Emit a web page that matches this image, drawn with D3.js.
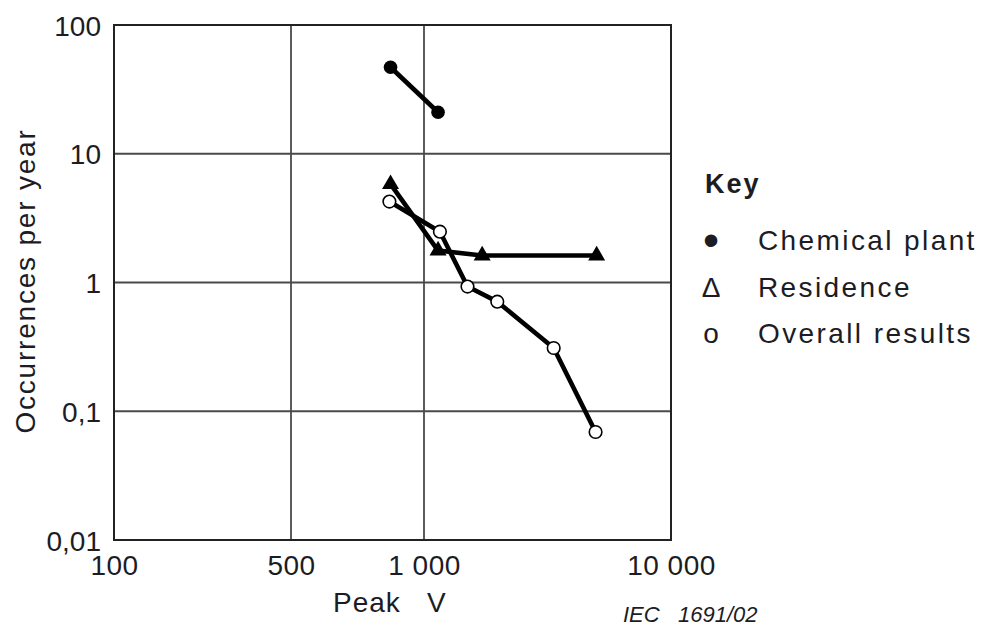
<!DOCTYPE html>
<html>
<head>
<meta charset="utf-8">
<script src="https://cdn.jsdelivr.net/npm/d3@7"></script>
<style>
  html, body { margin: 0; padding: 0; background: #fff; }
  svg { display: block; }
  text { font-family: "Liberation Sans", Arial, sans-serif; fill: #1c1c24; }
</style>
</head>
<body>
<svg id="chart" width="984" height="626"></svg>
<script>
// Axis ticks
const xTickValues = [100, 500, 1000, 10000];
const xTickLabels = ["100", "500", "1 000", "10 000"];
const yTickValues = [100, 10, 1, 0.1, 0.01];
const yTickLabels = ["100", "10", "1", "0,1", "0,01"];

// Series: peak voltage (V) and occurrences per year
const chemicalV = [840, 1140];
const chemicalOcc = [47, 21];
const residenceV = [840, 1140, 1720, 5000];
const residenceOcc = [5.8, 1.77, 1.62, 1.62];
const overallV = [835, 1160, 1500, 1980, 3350, 4950];
const overallOcc = [4.25, 2.48, 0.93, 0.71, 0.31, 0.069];

// Legend entries (glyph + label)
const keyGlyphs = ["•", "Δ", "o"];
const keyLabels = ["Chemical plant", "Residence", "Overall results"];

const svg = d3.select("#chart");
const plotLeft = 114, plotRight = 671, plotTop = 25, plotBottom = 540;

// Piecewise logarithmic voltage axis
const x = d3.scaleLog()
  .domain([100, 500, 1000, 10000])
  .range([plotLeft, 291, 424, plotRight]);
const y = d3.scaleLog()
  .domain([0.01, 100])
  .range([plotBottom, plotTop]);

// Grid lines
const grid = svg.append("g");
grid.selectAll("line.vx")
  .data(xTickValues.slice(1, -1))
  .join("line")
  .attr("x1", d => x(d)).attr("x2", d => x(d))
  .attr("y1", plotTop).attr("y2", plotBottom)
  .attr("stroke", "#4a4a4a").attr("stroke-width", 1.8);
grid.selectAll("line.hy")
  .data(yTickValues.slice(1, -1))
  .join("line")
  .attr("x1", plotLeft).attr("x2", plotRight)
  .attr("y1", d => y(d)).attr("y2", d => y(d))
  .attr("stroke", "#4a4a4a").attr("stroke-width", 1.8);

// Frame
svg.append("rect")
  .attr("x", plotLeft).attr("y", plotTop)
  .attr("width", plotRight - plotLeft).attr("height", plotBottom - plotTop)
  .attr("fill", "none").attr("stroke", "#222").attr("stroke-width", 2);

// Axes (labels only; lines come from the frame and grid)
const xAxis = d3.axisBottom(x)
  .tickValues(xTickValues)
  .tickFormat((d, i) => xTickLabels[i])
  .tickSize(0).tickPadding(0);
const gx = svg.append("g").attr("transform", `translate(0,${plotBottom})`).call(xAxis);
gx.select(".domain").remove();
gx.selectAll("text")
  .attr("y", 35).attr("dy", null)
  .style("font-size", "28px").style("letter-spacing", "0.5px")
  .attr("fill", "#1c1c24");

const yAxis = d3.axisLeft(y)
  .tickValues(yTickValues)
  .tickFormat((d, i) => yTickLabels[i])
  .tickSize(0).tickPadding(0);
const gy = svg.append("g").attr("transform", `translate(${plotLeft - 13},0)`).call(yAxis);
gy.select(".domain").remove();
gy.selectAll("text")
  .attr("x", 0).attr("dy", "0.36em")
  .style("font-size", "28px")
  .attr("fill", "#1c1c24");

// Axis titles
svg.append("text")
  .attr("transform", "translate(35,281) rotate(-90)")
  .attr("text-anchor", "middle")
  .style("font-size", "28px").style("letter-spacing", "1.8px")
  .text("Occurrences per year");
svg.append("text")
  .attr("x", 333).attr("y", 612)
  .style("font-size", "28px").style("letter-spacing", "1px")
  .text("Peak");
svg.append("text")
  .attr("x", 427).attr("y", 612)
  .style("font-size", "28px")
  .text("V");
svg.append("text")
  .attr("x", 623).attr("y", 622)
  .style("font-size", "22px").style("font-style", "italic")
  .attr("xml:space", "preserve")
  .text("IEC   1691/02");

// Series lines
const line = d3.line().x(d => x(d[0])).y(d => y(d[1]));
const chemical = d3.zip(chemicalV, chemicalOcc);
const residence = d3.zip(residenceV, residenceOcc);
const overall = d3.zip(overallV, overallOcc);

const plot = svg.append("g");
[chemical, residence, overall].forEach(series => {
  plot.append("path")
    .datum(series)
    .attr("d", line)
    .attr("fill", "none")
    .attr("stroke", "#000")
    .attr("stroke-width", 4.6)
    .attr("stroke-linejoin", "round");
});

// Markers
plot.selectAll("circle.chem")
  .data(chemical)
  .join("circle")
  .attr("cx", d => x(d[0])).attr("cy", d => y(d[1]))
  .attr("r", 6.8).attr("fill", "#000");

plot.selectAll("path.res")
  .data(residence)
  .join("path")
  .attr("transform", d => `translate(${x(d[0])},${y(d[1])})`)
  .attr("d", d3.symbol(d3.symbolTriangle, 125))
  .attr("fill", "#000");

plot.selectAll("circle.all")
  .data(overall)
  .join("circle")
  .attr("cx", d => x(d[0])).attr("cy", d => y(d[1]))
  .attr("r", 6.3).attr("fill", "#fff")
  .attr("stroke", "#000").attr("stroke-width", 1.6);

// Key
const key = svg.append("g");
key.append("text")
  .attr("x", 705).attr("y", 193)
  .style("font-size", "27px").style("font-weight", "bold").style("letter-spacing", "2px")
  .text("Key");
const glyphSizes = ["46px", "28px", "28px"];
const glyphDy = [6, 0, 0];
keyLabels.forEach((lab, i) => {
  const by = 250 + i * 46.5;
  key.append("text")
    .attr("x", 711).attr("y", by + glyphDy[i])
    .attr("text-anchor", "middle")
    .style("font-size", glyphSizes[i])
    .text(keyGlyphs[i]);
  key.append("text")
    .attr("x", 758).attr("y", by)
    .style("font-size", "28px").style("letter-spacing", "2.4px")
    .text(lab);
});
</script>
</body>
</html>
